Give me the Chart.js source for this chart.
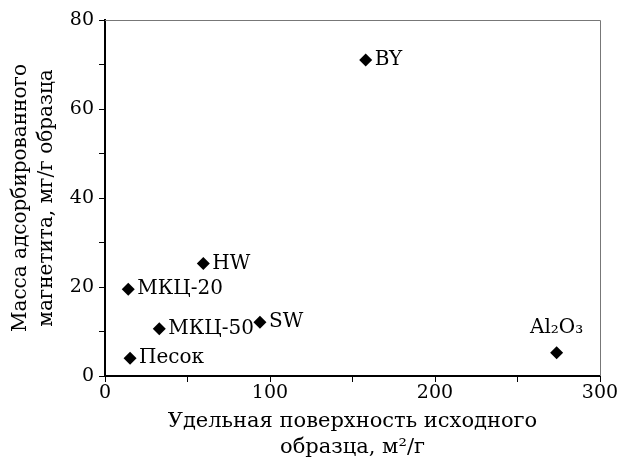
<!DOCTYPE html>
<html>
<head>
<meta charset="utf-8">
<script src="https://cdn.jsdelivr.net/npm/chart.js@4/dist/chart.umd.min.js"></script>
<style>
  html, body { margin: 0; padding: 0; background: #fff; }
  #wrap { width: 622px; height: 463px; }
</style>
</head>
<body>
<div id="wrap"><canvas id="c" width="622" height="463"></canvas></div>
<script>
// Samples and their measured values
const samples = ['BY', 'HW', 'МКЦ-20', 'МКЦ-50', 'SW', 'Песок', 'Al₂O₃'];
const surfaceArea = [158, 59.6, 14.1, 32.9, 93.9, 15.2, 273.7];   // м²/г
const magnetiteMass = [71.0, 25.3, 19.5, 10.6, 12.1, 4.0, 5.2];    // мг/г
const xTickLabels = [0, 100, 200, 300];
const yTickLabels = [0, 20, 40, 60, 80];

const serif = '"DejaVu Serif", "Liberation Serif", serif';

// Names written next to each marker; one sits above its marker
const pointLabels = {
  id: 'pointLabels',
  afterDatasetsDraw(chart) {
    const ctx = chart.ctx;
    const meta = chart.getDatasetMeta(0);
    ctx.save();
    ctx.fillStyle = '#000';
    ctx.font = '20px ' + serif;
    meta.data.forEach((pt, i) => {
      const name = samples[i];
      if (name === 'Al₂O₃') {
        ctx.textAlign = 'center';
        ctx.textBaseline = 'middle';
        ctx.fillText(name, pt.x, pt.y - 25);
      } else {
        ctx.textAlign = 'left';
        ctx.textBaseline = 'middle';
        ctx.fillText(name, pt.x + 9, pt.y);
      }
    });
    ctx.restore();
  }
};

// Thin frame on the top and right sides of the plot area
const frame = {
  id: 'frame',
  beforeDatasetsDraw(chart) {
    const {ctx, chartArea: a} = chart;
    ctx.save();
    ctx.strokeStyle = '#777';
    ctx.lineWidth = 1;
    ctx.beginPath();
    ctx.moveTo(a.left, a.top + 0.5);
    ctx.lineTo(a.right + 0.5, a.top + 0.5);
    ctx.lineTo(a.right + 0.5, a.bottom);
    ctx.stroke();
    ctx.restore();
  }
};

new Chart(document.getElementById('c'), {
  type: 'scatter',
  data: {
    datasets: [{
      data: surfaceArea.map((x, i) => ({x, y: magnetiteMass[i]})),
      pointStyle: 'rectRot',
      pointRadius: 6.5,
      pointHoverRadius: 6.5,
      backgroundColor: '#000',
      borderColor: '#000',
      borderWidth: 0
    }]
  },
  options: {
    responsive: false,
    animation: false,
    devicePixelRatio: 1,
    layout: { padding: { top: 20, right: 22, left: 0, bottom: 0 } },
    plugins: { legend: { display: false }, tooltip: { enabled: false } },
    scales: {
      x: {
        type: 'linear',
        min: 0, max: 300,
        afterFit(s) { s.height = 87; },
        border: { color: '#000', width: 2 },
        grid: { drawOnChartArea: false, color: '#000', tickLength: 6, lineWidth: 1 },
        ticks: {
          stepSize: 50,
          color: '#000',
          padding: 0,
          maxRotation: 0,
          font: { family: serif, size: 19 },
          callback: v => xTickLabels.includes(v) ? String(v) : ''
        },
        title: {
          display: true,
          text: ['Удельная поверхность исходного', 'образца, м²/г'],
          color: '#000',
          font: { family: serif, size: 21, lineHeight: 1.24 },
          padding: { top: 0, bottom: 2 }
        }
      },
      y: {
        type: 'linear',
        min: 0, max: 80,
        afterFit(s) { s.width = 105; },
        border: { color: '#000', width: 2 },
        grid: { drawOnChartArea: false, color: '#000', tickLength: 6, lineWidth: 1 },
        ticks: {
          stepSize: 10,
          color: '#000',
          padding: 5,
          font: { family: serif, size: 19 },
          callback: v => yTickLabels.includes(v) ? String(v) : ''
        },
        title: {
          display: true,
          text: ['Масса адсорбированного', 'магнетита, мг/г образца'],
          color: '#000',
          font: { family: serif, size: 20, lineHeight: 1.3 },
          padding: { top: 8, bottom: 0 }
        }
      }
    }
  },
  plugins: [frame, pointLabels]
});
</script>
</body>
</html>
